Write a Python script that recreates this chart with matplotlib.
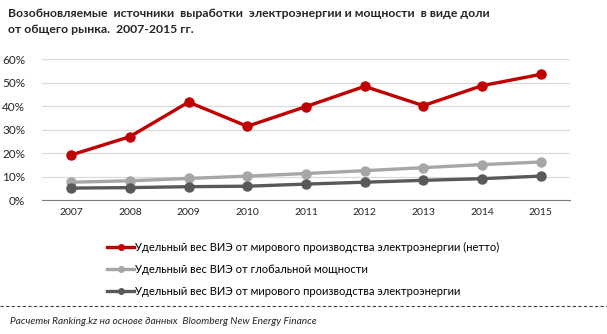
import matplotlib
matplotlib.use("Agg")
import matplotlib.pyplot as plt
from matplotlib.lines import Line2D

# data
YEARS = ["2007", "2008", "2009", "2010", "2011", "2012", "2013", "2014", "2015"]
NET_GEN = [19.2, 27.0, 41.7, 31.4, 39.8, 48.4, 40.2, 48.7, 53.5]
CAPACITY = [7.6, 8.2, 9.2, 10.2, 11.3, 12.5, 13.8, 15.1, 16.2]
GENERATION = [5.1, 5.3, 5.7, 5.9, 6.8, 7.6, 8.4, 9.1, 10.2]

LABELS = [
    "Удельный вес ВИЭ от мирового производства электроэнергии (нетто)",
    "Удельный вес ВИЭ от глобальной мощности",
    "Удельный вес ВИЭ от мирового производства электроэнергии",
]
COLORS = ["#C00000", "#A6A6A6", "#595959"]
YTICKS = [0, 10, 20, 30, 40, 50, 60]

TITLE = ("Возобновляемые  источники  выработки  электроэнергии и мощности  в виде доли\n"
         "от общего рынка.  2007-2015 гг.")
SOURCE = "Расчеты Ranking.kz на основе данных  Bloomberg New Energy Finance"

plt.rcParams["font.family"] = ["Lato", "DejaVu Sans"]

fig = plt.figure(figsize=(6.07, 3.34), dpi=100)
ax = fig.add_axes([0.069, 0.401, 0.870, 0.422])

x = list(range(len(YEARS)))
for vals, col in zip([NET_GEN, CAPACITY, GENERATION], COLORS):
    ax.plot(x, vals, color=col, lw=2.4, marker="o", ms=6.5, zorder=3)

ax.set_xlim(-0.5, len(YEARS) - 0.5)
ax.set_ylim(0, 60)
ax.set_yticks(YTICKS)
ax.set_yticklabels([f"{v}%" for v in YTICKS], fontsize=8.5, color="#262626")
ax.set_xticks(x)
ax.set_xticklabels(YEARS, fontsize=7.5, color="#262626")
ax.tick_params(length=0, pad=6)
ax.tick_params(axis="y", pad=12)
ax.grid(axis="y", color="#D9D9D9", lw=0.9)
ax.set_axisbelow(True)
for s in ["top", "right", "left"]:
    ax.spines[s].set_visible(False)
ax.spines["bottom"].set_color("#7F7F7F")

handles = [Line2D([], [], color=c, lw=2.4, marker="o", ms=4) for c in COLORS]
fig.legend(handles, LABELS, loc="upper left", bbox_to_anchor=(0.177, 0.276),
           frameon=False, fontsize=8, handlelength=2.4, handletextpad=0.1,
           labelspacing=0.98, borderaxespad=0, borderpad=0)

fig.text(0.013, 0.977, TITLE, fontsize=8.8, fontweight="bold", color="#262626",
         va="top", ha="left", linespacing=1.6)

fig.add_artist(Line2D([0.0, 1.0], [0.084, 0.084], transform=fig.transFigure,
                      color="#404040", lw=0.8, ls=(0, (3, 2))))
fig.text(0.016, 0.038, SOURCE, fontsize=7.3, style="italic", color="#262626",
         va="center", ha="left")

fig.savefig("out.png", dpi=100)
